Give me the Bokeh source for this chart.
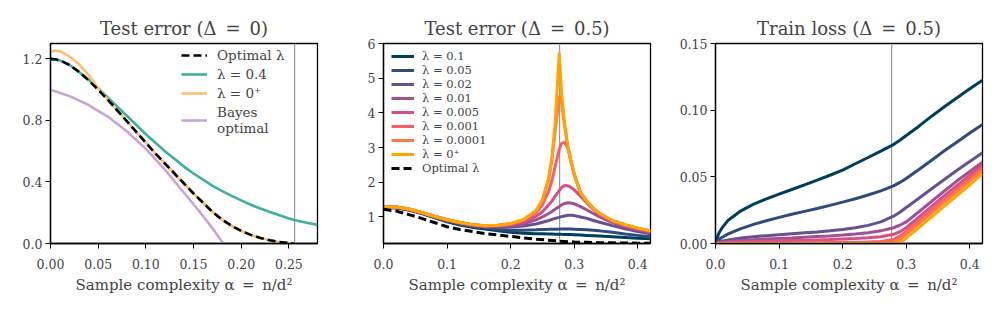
from bokeh.plotting import figure
from bokeh.layouts import row
from bokeh.models import Legend, LegendItem, Span, FixedTicker, PrintfTickFormatter, Range1d
from bokeh.embed import file_html
from bokeh.resources import INLINE

# ---------------- Panel 1 : Test error (Delta = 0) ----------------
p1_x = [0, 0.005, 0.01, 0.02, 0.03, 0.04, 0.05, 0.06, 0.07, 0.08, 0.09, 0.10, 0.11, 0.12,
        0.13, 0.14, 0.15, 0.16, 0.17, 0.18, 0.19, 0.20, 0.21, 0.22, 0.23, 0.24, 0.25, 0.255]
p1_optimal = [1.2, 1.198, 1.19, 1.16, 1.115, 1.06, 1.0, 0.935, 0.865, 0.795, 0.725, 0.655, 0.585, 0.52,
              0.455, 0.39, 0.325, 0.265, 0.205, 0.155, 0.115, 0.082, 0.056, 0.036, 0.021, 0.01, 0.003, 0.0]
p1_zero_plus = [1.245, 1.255, 1.25, 1.215, 1.165, 1.095, 1.01, 0.935, 0.865, 0.795, 0.725, 0.655, 0.585, 0.52,
                0.455, 0.39, 0.325, 0.265, 0.205, 0.155, 0.115, 0.082, 0.056, 0.036, 0.021, 0.01, 0.003, 0.0]
p1_x_teal = [0, 0.01, 0.02, 0.03, 0.04, 0.05, 0.06, 0.07, 0.08, 0.09, 0.10, 0.11, 0.12, 0.13, 0.14,
             0.15, 0.16, 0.17, 0.18, 0.19, 0.20, 0.21, 0.22, 0.23, 0.24, 0.25, 0.26, 0.27, 0.28]
p1_lam04 = [1.2, 1.19, 1.16, 1.115, 1.065, 1.01, 0.95, 0.89, 0.83, 0.77, 0.71, 0.655, 0.6, 0.55, 0.5,
            0.455, 0.415, 0.375, 0.34, 0.31, 0.28, 0.252, 0.228, 0.205, 0.184, 0.163, 0.146, 0.133, 0.121]
p1_x_bayes = [0, 0.02, 0.04, 0.06, 0.08, 0.10, 0.12, 0.14, 0.15, 0.16, 0.17, 0.175, 0.18, 0.1815]
p1_bayes = [1.0, 0.958, 0.9, 0.825, 0.73, 0.615, 0.48, 0.33, 0.255, 0.178, 0.098, 0.055, 0.01, 0.0]
p1_xticks = [0, 0.05, 0.10, 0.15, 0.20, 0.25]
p1_yticks = [0.0, 0.4, 0.8, 1.2]
p1_vline = 0.256

# ---------------- Panel 2 : Test error (Delta = 0.5) ----------------
p2_x = [0, 0.02, 0.04, 0.06, 0.08, 0.10, 0.12, 0.14, 0.16, 0.18, 0.20, 0.22, 0.24, 0.25, 0.26,
        0.265, 0.27, 0.2765, 0.28, 0.285, 0.29, 0.295, 0.30, 0.31, 0.32, 0.33, 0.34, 0.36, 0.38, 0.40, 0.42]
te_lam_01 = [1.27, 1.26, 1.2, 1.1, 0.98, 0.86, 0.77, 0.7, 0.65, 0.6, 0.56, 0.53, 0.52, 0.515, 0.51,
             0.508, 0.505, 0.502, 0.5, 0.498, 0.495, 0.493, 0.49, 0.48, 0.47, 0.46, 0.45, 0.43, 0.41, 0.39, 0.37]
te_lam_005 = [1.28, 1.27, 1.21, 1.11, 0.99, 0.88, 0.79, 0.72, 0.68, 0.64, 0.62, 0.62, 0.63, 0.64, 0.645,
              0.648, 0.65, 0.653, 0.655, 0.656, 0.656, 0.655, 0.65, 0.64, 0.63, 0.615, 0.6, 0.56, 0.51, 0.47, 0.43]
te_lam_002 = [1.28, 1.28, 1.22, 1.12, 1.0, 0.9, 0.82, 0.75, 0.71, 0.7, 0.71, 0.74, 0.8, 0.85, 0.9,
              0.93, 0.96, 0.99, 1.01, 1.03, 1.05, 1.05, 1.04, 1.0, 0.96, 0.9, 0.85, 0.75, 0.66, 0.58, 0.52]
te_lam_001 = [1.29, 1.28, 1.22, 1.12, 1.01, 0.91, 0.83, 0.77, 0.73, 0.73, 0.75, 0.8, 0.92, 1.0, 1.1,
              1.16, 1.22, 1.3, 1.35, 1.39, 1.41, 1.4, 1.38, 1.3, 1.2, 1.1, 1.0, 0.84, 0.72, 0.63, 0.56]
te_lam_0005 = [1.29, 1.29, 1.23, 1.13, 1.02, 0.92, 0.84, 0.78, 0.74, 0.75, 0.78, 0.86, 1.02, 1.15, 1.35,
               1.46, 1.6, 1.76, 1.85, 1.91, 1.9, 1.85, 1.78, 1.6, 1.4, 1.22, 1.07, 0.87, 0.75, 0.66, 0.58]
te_lam_0001 = [1.29, 1.29, 1.23, 1.13, 1.02, 0.92, 0.84, 0.78, 0.75, 0.76, 0.8, 0.9, 1.12, 1.35, 1.75,
               2.05, 2.45, 2.95, 3.12, 3.15, 3.0, 2.62, 2.22, 1.7, 1.44, 1.24, 1.09, 0.89, 0.77, 0.67, 0.59]
te_lam_00001 = [1.29, 1.29, 1.23, 1.13, 1.02, 0.92, 0.84, 0.78, 0.75, 0.76, 0.81, 0.92, 1.17, 1.48, 2.1,
                2.65, 3.45, 4.5, 4.3, 3.6, 3.0, 2.58, 2.24, 1.7, 1.45, 1.25, 1.1, 0.9, 0.78, 0.68, 0.6]
te_lam_0plus = [1.29, 1.29, 1.23, 1.13, 1.02, 0.92, 0.84, 0.78, 0.75, 0.76, 0.81, 0.92, 1.18, 1.5, 2.15,
                2.75, 3.7, 5.74, 4.6, 3.7, 3.05, 2.6, 2.25, 1.7, 1.45, 1.25, 1.1, 0.9, 0.78, 0.68, 0.6]
p2_x_opt = [0, 0.02, 0.04, 0.06, 0.08, 0.10, 0.12, 0.14, 0.16, 0.18, 0.20, 0.22, 0.24, 0.26, 0.28,
            0.30, 0.32, 0.34, 0.36, 0.38, 0.40, 0.42]
te_optimal = [1.22, 1.17, 1.07, 0.96, 0.84, 0.72, 0.64, 0.58, 0.52, 0.48, 0.44, 0.40, 0.36, 0.33, 0.30,
              0.28, 0.27, 0.26, 0.255, 0.25, 0.245, 0.24]
p2_xticks = [0.0, 0.1, 0.2, 0.3, 0.4]
p2_yticks = [1, 2, 3, 4, 5, 6]
p2_vline = 0.277

# ---------------- Panel 3 : Train loss (Delta = 0.5) ----------------
p3_x = [0, 0.005, 0.01, 0.02, 0.04, 0.06, 0.08, 0.10, 0.12, 0.14, 0.16, 0.18, 0.20, 0.22, 0.24,
        0.26, 0.28, 0.29, 0.30, 0.32, 0.34, 0.36, 0.38, 0.40, 0.42]
tl_lam_01 = [0, 0.0075, 0.0115, 0.0175, 0.0245, 0.0295, 0.0335, 0.037, 0.0405, 0.044, 0.0475, 0.0512, 0.055,
             0.0598, 0.0645, 0.0693, 0.0742, 0.0775, 0.081, 0.088, 0.0955, 0.1025, 0.1093, 0.116, 0.1225]
tl_lam_005 = [0, 0.0028, 0.0045, 0.0072, 0.0112, 0.0143, 0.0171, 0.0196, 0.0219, 0.0241, 0.0263, 0.0286,
              0.031, 0.0336, 0.0364, 0.0395, 0.0432, 0.0458, 0.0488, 0.0555, 0.0625, 0.0695, 0.0762, 0.0828, 0.0892]
tl_lam_002 = [0, 0.001, 0.0017, 0.0027, 0.0041, 0.0051, 0.0059, 0.0066, 0.0073, 0.008, 0.0087, 0.0095,
              0.0105, 0.0118, 0.0136, 0.0162, 0.0205, 0.0235, 0.027, 0.034, 0.041, 0.048, 0.055, 0.0615, 0.068]
tl_lam_001 = [0, 0.0005, 0.0009, 0.0015, 0.0023, 0.0029, 0.0034, 0.0038, 0.0042, 0.0047, 0.0052, 0.0057,
              0.0063, 0.0071, 0.0081, 0.0095, 0.0118, 0.0137, 0.0162, 0.0238, 0.0316, 0.0394, 0.047, 0.054, 0.061]
tl_lam_0005 = [0, 0.0003, 0.0005, 0.0008, 0.0012, 0.0015, 0.0017, 0.002, 0.0022, 0.0024, 0.0027, 0.003,
               0.0034, 0.0038, 0.0043, 0.0051, 0.0069, 0.0088, 0.0118, 0.0198, 0.0278, 0.0358, 0.0436, 0.0513, 0.059]
tl_lam_0001 = [0, 0.0001, 0.0001, 0.0002, 0.0003, 0.0003, 0.0004, 0.0004, 0.0005, 0.0005, 0.0006, 0.0007,
               0.0008, 0.0009, 0.0011, 0.0015, 0.003, 0.0055, 0.009, 0.017, 0.025, 0.033, 0.041, 0.049, 0.057]
tl_lam_00001 = [0, 0, 0, 0, 0, 0, 0, 0, 0, 0, 0, 0, 0, 0, 0.0001, 0.0002, 0.001, 0.003, 0.007,
                0.015, 0.023, 0.031, 0.039, 0.047, 0.055]
tl_lam_0plus = [0, 0, 0, 0, 0, 0, 0, 0, 0, 0, 0, 0, 0, 0, 0, 0, 0, 0.0005, 0.004,
                0.012, 0.02, 0.028, 0.036, 0.044, 0.0525]
p3_xticks = [0.0, 0.1, 0.2, 0.3, 0.4]
p3_yticks = [0.0, 0.05, 0.10, 0.15]
p3_vline = 0.277

lam_labels = ["λ = 0.1", "λ = 0.05", "λ = 0.02", "λ = 0.01", "λ = 0.005",
              "λ = 0.001", "λ = 0.0001", "λ = 0⁺"]
lam_colors = ["#003f5c", "#2f4b7c", "#665191", "#a05195", "#d45087",
              "#f95d6a", "#ff7c43", "#ffa600"]

SERIF = "DejaVu Serif"
XLABEL = "Sample complexity α\u2002=\u2002n/d²"


def make_fig(title, x_rng, y_rng, left, right, xticks, yticks, xfmt, yfmt):
    p = figure(frame_width=267, frame_height=200, x_range=Range1d(*x_rng), y_range=Range1d(*y_rng),
               output_backend="svg", toolbar_location=None,
               min_border_left=left, min_border_right=right, min_border_top=43, min_border_bottom=60,
               title=title)
    p.title.text_font = SERIF
    p.title.text_font_size = "18px"
    p.title.text_font_style = "normal"
    p.title.align = "center"
    p.title.standoff = 9
    p.grid.visible = False
    p.outline_line_color = "black"
    p.outline_line_width = 1.3
    p.outline_line_alpha = 1
    p.background_fill_color = "white"
    p.border_fill_color = "white"
    for ax in (p.xaxis[0], p.yaxis[0]):
        ax.major_label_text_font = SERIF
        ax.major_label_text_font_size = "12.5px"
        ax.axis_label_text_font = SERIF
        ax.axis_label_text_font_size = "15px"
        ax.axis_label_text_font_style = "normal"
        ax.major_tick_in = 0
        ax.major_tick_out = 5
        ax.minor_tick_in = 0
        ax.minor_tick_out = 0
        ax.axis_line_width = 1.3
        ax.major_tick_line_width = 1
    p.xaxis[0].ticker = FixedTicker(ticks=xticks)
    p.yaxis[0].ticker = FixedTicker(ticks=yticks)
    p.xaxis[0].formatter = PrintfTickFormatter(format=xfmt)
    p.yaxis[0].formatter = PrintfTickFormatter(format=yfmt)
    p.xaxis[0].axis_label = XLABEL
    p.xaxis[0].major_label_standoff = 10
    p.xaxis[0].axis_label_standoff = 4
    p.yaxis[0].major_label_standoff = 3
    return p


def style_legend(leg, glyph_w, standoff, lh, sp, fsize):
    leg.label_text_font = SERIF
    leg.label_text_font_size = fsize
    leg.glyph_width = glyph_w
    leg.glyph_height = lh
    leg.label_height = lh
    leg.label_standoff = standoff
    leg.spacing = sp
    leg.padding = 0
    leg.margin = 0
    leg.background_fill_alpha = 0
    leg.border_line_color = None
    leg.label_text_line_height = 0.95


# ----- figure 1 -----
p1 = make_fig("Test error (Δ\u2002=\u20020)", (0, 0.28), (0, 1.3), 50, 8, p1_xticks, p1_yticks, "%.2f", "%.1f")
p1.add_layout(Span(location=p1_vline, dimension="height", line_color="#9a9a9a", line_width=1.2,
                   level="underlay"))
r_bayes = p1.line(p1_x_bayes, p1_bayes, line_color="#c8a5d5", line_width=2.6)
r_teal = p1.line(p1_x_teal, p1_lam04, line_color="#3eb1a1", line_width=2.6)
r_zp = p1.line(p1_x, p1_zero_plus, line_color="#ffbe6e", line_width=2.6)
r_opt = p1.line(p1_x, p1_optimal, line_color="black", line_width=2.6, line_dash="8 4")
leg1 = Legend(items=[LegendItem(label="Optimal λ", renderers=[r_opt]),
                     LegendItem(label="λ = 0.4", renderers=[r_teal]),
                     LegendItem(label="λ = 0⁺", renderers=[r_zp]),
                     LegendItem(label="Bayes\noptimal", renderers=[r_bayes])],
              location=(131, 107))
style_legend(leg1, 26, 10, 14, 3, "13.5px")
p1.add_layout(leg1)

# ----- figure 2 -----
p2 = make_fig("Test error (Δ\u2002=\u20020.5)", (0, 0.42), (0.236, 6), 58, 8, p2_xticks, p2_yticks, "%.1f", "%d")
p2.add_layout(Span(location=p2_vline, dimension="height", line_color="#9a9a9a", line_width=1.2,
                   level="underlay"))
te_series = [te_lam_01, te_lam_005, te_lam_002, te_lam_001, te_lam_0005, te_lam_0001, te_lam_00001, te_lam_0plus]
items2 = []
for ys, c, lab in zip(te_series, lam_colors, lam_labels):
    r = p2.line(p2_x, ys, line_color=c, line_width=3)
    items2.append(LegendItem(label=lab, renderers=[r]))
r_opt2 = p2.line(p2_x_opt, te_optimal, line_color="black", line_width=3, line_dash="8 4")
items2.append(LegendItem(label="Optimal λ", renderers=[r_opt2]))
leg2 = Legend(items=items2, location=(8, 68))
style_legend(leg2, 23, 8, 12, 0, "11.5px")
p2.add_layout(leg2)

# ----- figure 3 -----
p3 = make_fig("Train loss (Δ\u2002=\u20020.5)", (0, 0.42), (0, 0.15), 57, 6, p3_xticks, p3_yticks, "%.1f", "%.2f")
p3.add_layout(Span(location=p3_vline, dimension="height", line_color="#9a9a9a", line_width=1.2,
                   level="underlay"))
tl_series = [tl_lam_01, tl_lam_005, tl_lam_002, tl_lam_001, tl_lam_0005, tl_lam_0001, tl_lam_00001, tl_lam_0plus]
for ys, c in zip(tl_series, lam_colors):
    p3.line(p3_x, ys, line_color=c, line_width=3)

layout = row(p1, p2, p3)
open("out.html", "w").write(file_html(layout, INLINE))
